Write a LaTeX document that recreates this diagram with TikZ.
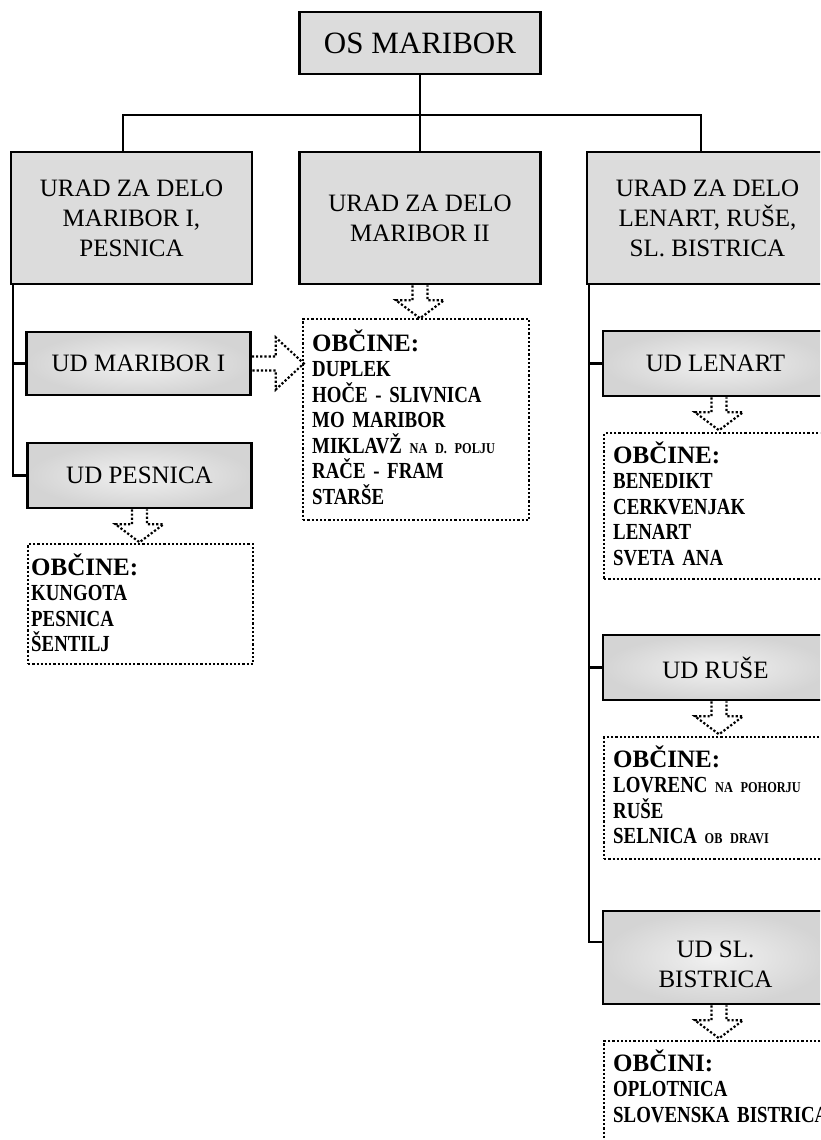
\documentclass[tikz,border=0pt]{standalone}
\usepackage{fontspec}
\setmainfont{Liberation Serif}
\newfontfamily\listfont{Liberation Serif}[FakeStretch=0.82]
\definecolor{boxgray}{RGB}{220,220,220}
\definecolor{udin}{RGB}{241,241,241}
\definecolor{udout}{RGB}{212,212,212}
\newcommand{\smc}[1]{{\fontsize{15}{16}\selectfont #1}}
\begin{document}
\begin{tikzpicture}[x=1pt,y=-1pt,
  conn/.style={line width=2.8pt},
  dotl/.style={line width=2.2pt, dash pattern=on 2.2pt off 2pt},
  flatbox/.style={draw, line width=2.6pt, fill=boxgray, inner sep=0pt, align=center,
    minimum width=241pt, minimum height=132pt, font=\fontsize{25}{30}\selectfont},
  udbox/.style={draw, line width=2.6pt, inner color=udin, outer color=udout, inner sep=0pt,
    align=center, minimum width=224pt, minimum height=63pt, font=\fontsize{25}{30}\selectfont},
  dotbox/.style={draw, dotl, inner sep=0pt, minimum width=225pt, anchor=north west},
  listtext/.style={anchor=base west, inner sep=0pt, text width=300pt, align=left,
    font=\listfont\bfseries\fontsize{23}{25.5}\selectfont},
  darr/.pic={\draw[dotl] (-7.5,0) -- (-7.5,15) -- (-24,15) -- (0,33) -- (24,15) -- (7.5,15) -- (7.5,0);},
  rarr/.pic={\draw[dotl] (0,-7) -- (24,-7) -- (24,-26) -- (52,0) -- (24,26) -- (24,7) -- (0,7);}
]
\useasboundingbox (0,0) rectangle (820,1140);
\clip (0,0) rectangle (820,1140);
\newcommand{\ttl}[1]{{\rmfamily\bfseries\fontsize{25}{25.5}\selectfont #1}}

% top level
\node[flatbox, minimum height=62pt, font=\fontsize{31}{36}\selectfont] (os) at (420,43) {OS MARIBOR};
\node[flatbox] (u1) at (131.5,218) {URAD ZA DELO\\MARIBOR I,\\PESNICA};
\node[flatbox] (u2) at (420,218) {URAD ZA DELO\\MARIBOR II};
\node[flatbox] (u3) at (707.5,218) {URAD ZA DELO\\LENART, RUŠE,\\SL. BISTRICA};

\coordinate (h1) at (123,115);
\coordinate (h3) at (701,115);
\coordinate (lt) at (13,0);
\coordinate (rt) at (589,0);

\draw[conn] (os.south) -- (u2.north);
\draw[conn] (u1.north -| h1) |- (h3) -- (u3.north -| h3);

% left column
\node[udbox] (udm) at (138.5,363.5) {UD MARIBOR I};
\node[udbox, minimum height=65pt] (udp) at (139.5,475.5) {UD PESNICA};
\draw[conn] (u1.south -| lt) |- (udm.west);
\draw[conn] (u1.south -| lt) |- (udp.west);

\pic at (udp.south) {darr};
\node[dotbox, minimum height=120pt] (lp) at (27,543) {};
\node[listtext] (lpt) at ([xshift=4pt,yshift=-32pt]lp.north west)
  {\ttl{OBČINE:}\\KUNGOTA\\PESNICA\\ŠENTILJ};

% middle
\pic at (u2.south) {darr};
\node[dotbox, minimum width=226pt, minimum height=201pt] (lm) at (302,318) {};
\node[listtext] (lmt) at ([xshift=10pt,yshift=-33pt]lm.north west)
  {\ttl{OBČINE:}\\DUPLEK\\HOČE - SLIVNICA\\MO MARIBOR\\MIKLAVŽ \smc{NA D. POLJU}\\RAČE - FRAM\\STARŠE};
\pic at (udm.east) {rarr};

% right column
\node[udbox, minimum width=225pt, minimum height=65pt] (udl) at (715.5,363.5) {UD LENART};
\node[udbox, minimum width=225pt, minimum height=65pt] (udr) at (715.5,667.5) {UD RUŠE};
\node[udbox, minimum width=225pt, minimum height=93pt] (uds) at (715.5,957.5) {\rule{0pt}{30pt}UD SL.\\BISTRICA};
\draw[conn] (u3.south -| rt) |- (udl.west);
\draw[conn] (u3.south -| rt) |- (udr.west);
\draw[conn] (u3.south -| rt) |- ([yshift=15.5pt]uds.west);

\pic at ([xshift=3.5pt]udl.south) {darr};
\node[dotbox, minimum height=146pt] (ll) at (603,432) {};
\node[listtext] (llt) at ([xshift=10pt,yshift=-31pt]ll.north west)
  {\ttl{OBČINE:}\\BENEDIKT\\CERKVENJAK\\LENART\\SVETA ANA};

\pic at ([xshift=3.5pt]udr.south) {darr};
\node[dotbox, minimum height=122pt] (lr) at (603,736) {};
\node[listtext] (lrt) at ([xshift=10pt,yshift=-31pt]lr.north west)
  {\ttl{OBČINE:}\\LOVRENC \smc{NA POHORJU}\\RUŠE\\SELNICA \smc{OB DRAVI}};

\pic at ([xshift=3.5pt]uds.south) {darr};
\node[dotbox, minimum height=140pt] (ls) at (603,1040) {};
\node[listtext] (lst) at ([xshift=10pt,yshift=-31pt]ls.north west)
  {\ttl{OBČINI:}\\OPLOTNICA\\SLOVENSKA BISTRICA};
\end{tikzpicture}
\end{document}
